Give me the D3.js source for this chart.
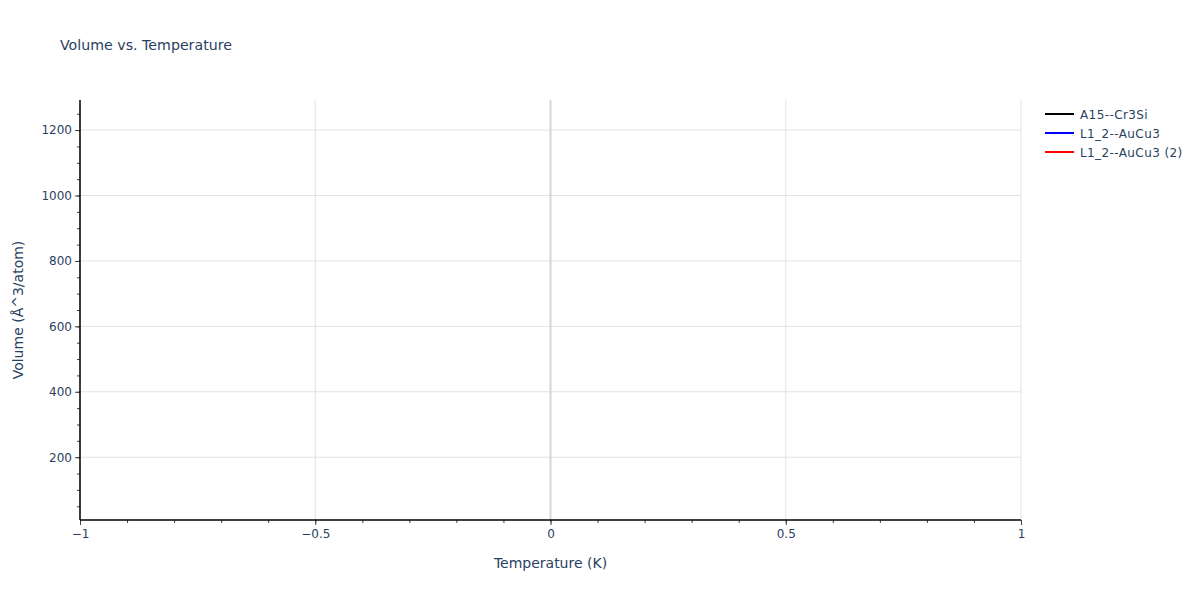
<!DOCTYPE html>
<html>
<head>
<meta charset="utf-8">
<script src="https://cdn.jsdelivr.net/npm/d3@7"></script>
<style>
  body { margin: 0; background: #fff; }
  text { font-family: "DejaVu Sans", verdana, sans-serif; fill: #2a3f5f; }
</style>
</head>
<body>
<div id="container"></div>
<script>
let w = 1200;
let h = 600;

// series names and colours, as in the legend
let seriesNames = ["A15--Cr3Si", "L1_2--AuCu3", "L1_2--AuCu3 (2)"];
let seriesColors = ["black", "blue", "red"];

// every series is a single point at T = 0
let tempA15 = [0];
let volA15 = [8];
let tempL12 = [0];
let volL12 = [1292];
let tempL12b = [0];
let volL12b = [14];

let xTicks = [-1, -0.5, 0, 0.5, 1];
let yTicks = [200, 400, 600, 800, 1000, 1200];

let series = [
  {name: seriesNames[0], color: seriesColors[0], x: tempA15, y: volA15},
  {name: seriesNames[1], color: seriesColors[1], x: tempL12, y: volL12},
  {name: seriesNames[2], color: seriesColors[2], x: tempL12b, y: volL12b}
];

let margin = {left: 80, right: 179, top: 100, bottom: 80};

let viz = d3.select("#container")
  .append("svg")
    .attr("width", w)
    .attr("height", h)
    .style("background-color", "white");

// x values are all zero, so the range opens to +-1 around it
let xScale = d3.scaleLinear().domain([-1, 1]).range([margin.left, w - margin.right]);
let allVol = volA15.concat(volL12, volL12b);
let yScale = d3.scaleLinear().domain(d3.extent(allVol)).range([h - margin.bottom, margin.top]);

// grid
let grid = viz.append("g");
grid.selectAll(".vgrid").data(xTicks.filter(d => d != 0)).enter().append("line")
  .attr("x1", d => xScale(d)).attr("x2", d => xScale(d))
  .attr("y1", margin.top).attr("y2", h - margin.bottom)
  .attr("stroke", "#e2e2e2").attr("stroke-width", 1);
grid.selectAll(".hgrid").data(yTicks).enter().append("line")
  .attr("x1", margin.left).attr("x2", w - margin.right)
  .attr("y1", d => yScale(d)).attr("y2", d => yScale(d))
  .attr("stroke", "#e2e2e2").attr("stroke-width", 1);
// zero line
grid.append("line")
  .attr("x1", xScale(0)).attr("x2", xScale(0))
  .attr("y1", margin.top).attr("y2", h - margin.bottom)
  .attr("stroke", "#d6d6d6").attr("stroke-width", 2);

// lines (single points, so nothing shows)
let line = d3.line().x(d => xScale(d[0])).y(d => yScale(d[1]));
viz.append("g").selectAll("path").data(series).enter().append("path")
  .attr("d", d => line(d3.zip(d.x, d.y)))
  .attr("fill", "none")
  .attr("stroke", d => d.color)
  .attr("stroke-width", 2);

// minor ticks
let xMinor = d3.range(-10, 11).map(d => d / 10);
let yMinor = d3.range(50, 1300, 50).filter(d => d <= yScale.domain()[1]);
let xMinorAxis = d3.axisBottom(xScale).tickValues(xMinor).tickSize(3).tickFormat("");
let yMinorAxis = d3.axisLeft(yScale).tickValues(yMinor).tickSize(3).tickFormat("");

let xMinorGroup = viz.append("g").attr("transform", "translate(0," + (h - margin.bottom) + ")").call(xMinorAxis);
let yMinorGroup = viz.append("g").attr("transform", "translate(" + margin.left + ",0)").call(yMinorAxis);

// major axes
let xAxis = d3.axisBottom(xScale).tickValues(xTicks).tickSize(5).tickPadding(4)
  .tickFormat(d => String(d).replace("-", "\u2212"));
let yAxis = d3.axisLeft(yScale).tickValues(yTicks).tickSize(5).tickPadding(3)
  .tickFormat(d => String(d));

let xAxisGroup = viz.append("g").attr("transform", "translate(0," + (h - margin.bottom) + ")").call(xAxis);
let yAxisGroup = viz.append("g").attr("transform", "translate(" + margin.left + ",0)").call(yAxis);

[xMinorGroup, yMinorGroup, xAxisGroup, yAxisGroup].forEach(function(g){
  g.select(".domain").remove();
  g.selectAll(".tick line").attr("stroke", "#444");
  g.selectAll("text").attr("font-size", 12).attr("font-family", null).style("fill", "#2a3f5f");
});

// axis lines
viz.append("line")
  .attr("x1", margin.left).attr("x2", w - margin.right)
  .attr("y1", h - margin.bottom).attr("y2", h - margin.bottom)
  .attr("stroke", "black").attr("stroke-width", 1.5);
viz.append("line")
  .attr("x1", margin.left).attr("x2", margin.left)
  .attr("y1", margin.top).attr("y2", h - margin.bottom)
  .attr("stroke", "black").attr("stroke-width", 1.5);

// titles
viz.append("text").attr("x", 60).attr("y", 50).attr("font-size", 14.2)
  .text("Volume vs. Temperature");
viz.append("text").attr("x", xScale(0)).attr("y", 568).attr("font-size", 14)
  .attr("text-anchor", "middle").text("Temperature (K)");
viz.append("text")
  .attr("transform", "translate(23," + ((margin.top + h - margin.bottom) / 2) + ") rotate(-90)")
  .attr("font-size", 14).attr("text-anchor", "middle").text("Volume (Å^3/atom)");

// legend
let legend = viz.append("g").attr("transform", "translate(1045,114)");
let items = legend.selectAll("g").data(series).enter().append("g")
  .attr("transform", (d, i) => "translate(0," + (i * 19) + ")");
items.append("line").attr("x1", 0).attr("x2", 29).attr("y1", 0).attr("y2", 0)
  .attr("stroke", d => d.color).attr("stroke-width", 2);
items.append("text").attr("x", 35).attr("y", 4.5).attr("font-size", 12)
  .attr("letter-spacing", 0.4).text(d => d.name);
</script>
</body>
</html>
